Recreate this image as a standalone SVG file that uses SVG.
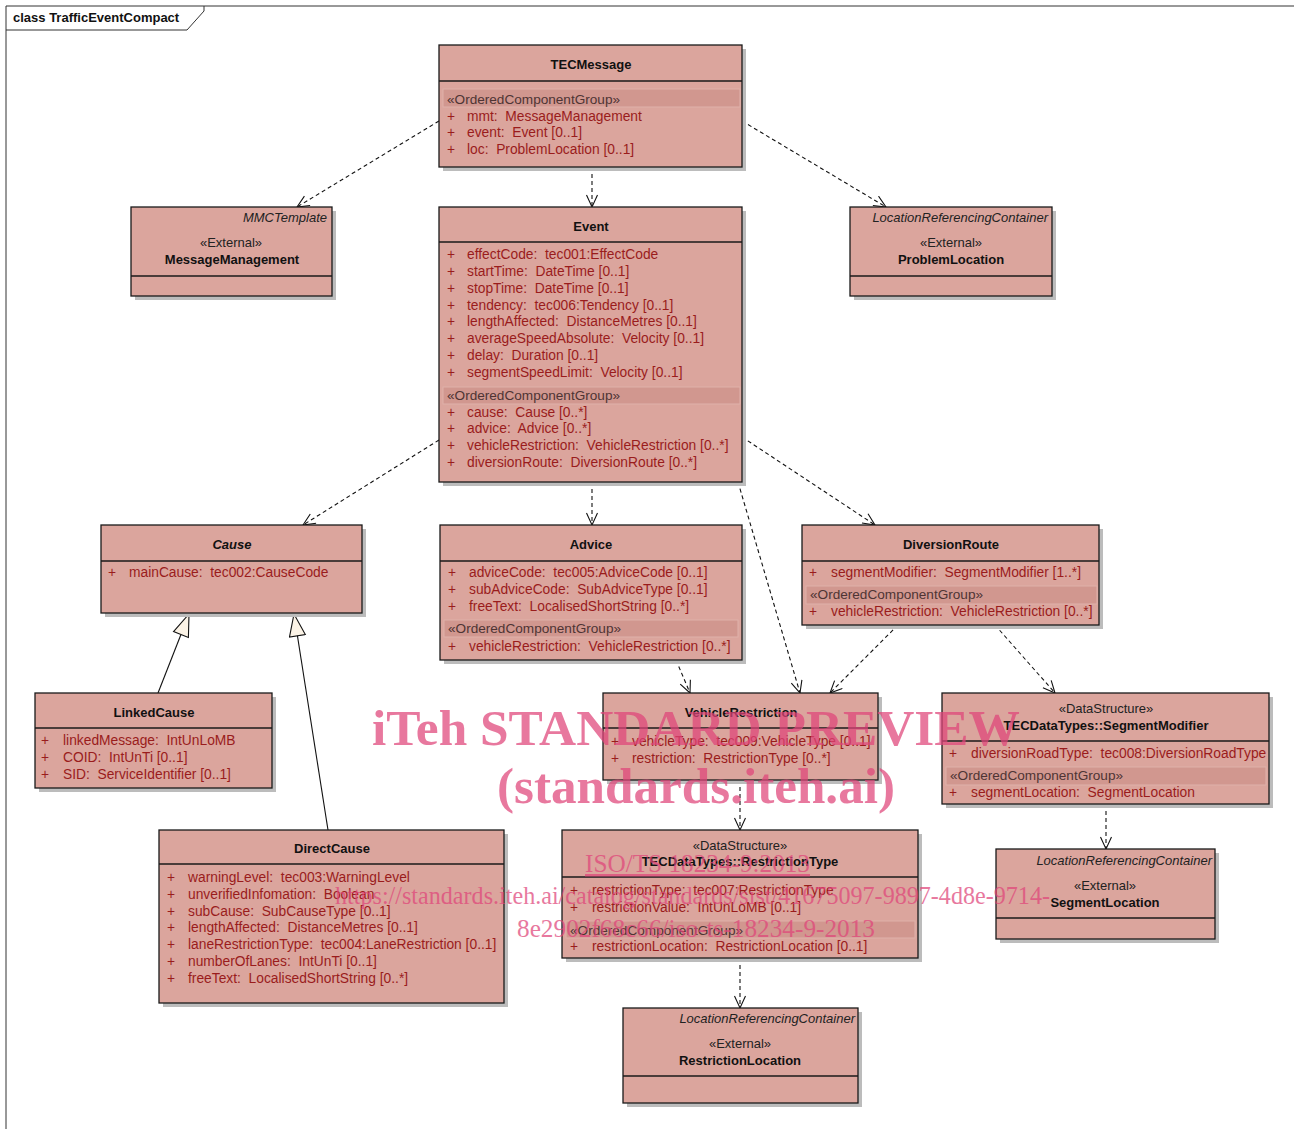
<svg xmlns="http://www.w3.org/2000/svg" width="1294" height="1129" viewBox="0 0 1294 1129">
<style>
text { font-family: "Liberation Sans", Arial, sans-serif; white-space: pre; }
.box { fill: #dba59d; stroke: #1a1a1a; stroke-width: 1.3; }
.sh { fill: #bcbcbc; }
.div { stroke: #1a1a1a; stroke-width: 1.3; }
.band { fill: #d1978f; stroke: #dfb1aa; stroke-width: 1; }
.t { font-size: 13px; font-weight: bold; fill: #111; text-anchor: middle; }
.ti { font-size: 13px; font-weight: bold; font-style: italic; fill: #111; text-anchor: middle; }
.st { font-size: 13px; fill: #222; text-anchor: middle; }
.it { font-size: 13px; font-style: italic; fill: #222; text-anchor: end; }
.a { font-size: 13.8px; fill: #9a1c1c; }
.g { font-size: 13.6px; fill: #4e3434; }
.dep { fill: none; stroke: #111; stroke-width: 1.1; stroke-dasharray: 4 3; marker-end: url(#open); }
.gen { fill: none; stroke: #111; stroke-width: 1.1; marker-end: url(#tri); }
.wm { font-family: "Liberation Serif", "Times New Roman", serif; fill: #e0457a; opacity: 0.72; }
</style>
<defs>
<marker id="open" markerUnits="userSpaceOnUse" markerWidth="16" markerHeight="14" refX="13" refY="6" orient="auto">
<path d="M1,0.5 L13,6 L1,11.5" fill="none" stroke="#111" stroke-width="1.1"/>
</marker>
<marker id="tri" markerUnits="userSpaceOnUse" markerWidth="26" markerHeight="20" refX="23" refY="9" orient="auto">
<path d="M1,1 L23,9 L1,17 Z" fill="#fbf3e6" stroke="#111" stroke-width="1.1"/>
</marker>
</defs>
<rect x="0" y="0" width="1294" height="1129" fill="#ffffff"/>
<g id="frame">
<path d="M6,1129 V6 H1294" fill="none" stroke="#333" stroke-width="1"/>
<path d="M6,30 H187 L204,11 V6" fill="none" stroke="#333" stroke-width="1"/>
<text x="13" y="22" style="font-size:13px;font-weight:bold;fill:#111">class TrafficEventCompact</text>
</g>

<g id="connectors">
<path class="dep" d="M439,121 L297,207"/>
<path class="dep" d="M592,167 L592,207"/>
<path class="dep" d="M742,121 L886,207"/>
<path class="dep" d="M439,440 L303,525"/>
<path class="dep" d="M592,482 L592,525"/>
<path class="dep" d="M742,437 L875,525"/>
<path class="dep" d="M738,482 L800,693"/>
<path class="dep" d="M676,660 L690,693"/>
<path class="dep" d="M898,625 L830,693"/>
<path class="dep" d="M995,625 L1055,693"/>
<path class="dep" d="M740,780 L740,830"/>
<path class="dep" d="M1106,804 L1106,849"/>
<path class="dep" d="M740,958 L740,1008"/>
<path class="gen" d="M158,693 L189,614"/>
<path class="gen" d="M328,830 L294,614"/>
</g>

<g id="TECMessage">
<rect class="sh" x="443" y="49" width="303" height="122"/>
<rect class="box" x="439" y="45" width="303" height="122"/>
<line class="div" x1="439" y1="81" x2="742" y2="81"/>
<text class="t" x="591" y="69">TECMessage</text>
<rect class="band" x="443" y="89" width="297" height="18"/>
<text class="g" x="447" y="104">«OrderedComponentGroup»</text>
<text class="a" x="447" y="121">+</text><text class="a" x="467" y="121">mmt:  MessageManagement</text>
<text class="a" x="447" y="137">+</text><text class="a" x="467" y="137">event:  Event [0..1]</text>
<text class="a" x="447" y="154">+</text><text class="a" x="467" y="154">loc:  ProblemLocation [0..1]</text>
</g>

<g id="MessageManagement">
<rect class="sh" x="135" y="211" width="201" height="89"/>
<rect class="box" x="131" y="207" width="201" height="89"/>
<line class="div" x1="131" y1="276" x2="332" y2="276"/>
<text class="it" x="327" y="222">MMCTemplate</text>
<text class="st" x="231" y="247">«External»</text>
<text class="t" x="232" y="264">MessageManagement</text>
</g>

<g id="ProblemLocation">
<rect class="sh" x="854" y="211" width="202" height="89"/>
<rect class="box" x="850" y="207" width="202" height="89"/>
<line class="div" x1="850" y1="276" x2="1052" y2="276"/>
<text class="it" x="1048" y="222">LocationReferencingContainer</text>
<text class="st" x="951" y="247">«External»</text>
<text class="t" x="951" y="264">ProblemLocation</text>
</g>

<g id="Event">
<rect class="sh" x="443" y="211" width="303" height="275"/>
<rect class="box" x="439" y="207" width="303" height="275"/>
<line class="div" x1="439" y1="242" x2="742" y2="242"/>
<text class="t" x="591" y="231">Event</text>
<text class="a" x="447" y="259">+</text><text class="a" x="467" y="259">effectCode:  tec001:EffectCode</text>
<text class="a" x="447" y="276">+</text><text class="a" x="467" y="276">startTime:  DateTime [0..1]</text>
<text class="a" x="447" y="293">+</text><text class="a" x="467" y="293">stopTime:  DateTime [0..1]</text>
<text class="a" x="447" y="310">+</text><text class="a" x="467" y="310">tendency:  tec006:Tendency [0..1]</text>
<text class="a" x="447" y="326">+</text><text class="a" x="467" y="326">lengthAffected:  DistanceMetres [0..1]</text>
<text class="a" x="447" y="343">+</text><text class="a" x="467" y="343">averageSpeedAbsolute:  Velocity [0..1]</text>
<text class="a" x="447" y="360">+</text><text class="a" x="467" y="360">delay:  Duration [0..1]</text>
<text class="a" x="447" y="377">+</text><text class="a" x="467" y="377">segmentSpeedLimit:  Velocity [0..1]</text>
<rect class="band" x="443" y="387" width="297" height="17"/>
<text class="g" x="447" y="400">«OrderedComponentGroup»</text>
<text class="a" x="447" y="417">+</text><text class="a" x="467" y="417">cause:  Cause [0..*]</text>
<text class="a" x="447" y="433">+</text><text class="a" x="467" y="433">advice:  Advice [0..*]</text>
<text class="a" x="447" y="450">+</text><text class="a" x="467" y="450">vehicleRestriction:  VehicleRestriction [0..*]</text>
<text class="a" x="447" y="467">+</text><text class="a" x="467" y="467">diversionRoute:  DiversionRoute [0..*]</text>
</g>

<g id="Cause">
<rect class="sh" x="105" y="529" width="261" height="88"/>
<rect class="box" x="101" y="525" width="261" height="88"/>
<line class="div" x1="101" y1="561" x2="362" y2="561"/>
<text class="ti" x="232" y="549">Cause</text>
<text class="a" x="108" y="577">+</text><text class="a" x="129" y="577">mainCause:  tec002:CauseCode</text>
</g>

<g id="Advice">
<rect class="sh" x="444" y="529" width="302" height="135"/>
<rect class="box" x="440" y="525" width="302" height="135"/>
<line class="div" x1="440" y1="561" x2="742" y2="561"/>
<text class="t" x="591" y="549">Advice</text>
<text class="a" x="448" y="577">+</text><text class="a" x="469" y="577">adviceCode:  tec005:AdviceCode [0..1]</text>
<text class="a" x="448" y="594">+</text><text class="a" x="469" y="594">subAdviceCode:  SubAdviceType [0..1]</text>
<text class="a" x="448" y="611">+</text><text class="a" x="469" y="611">freeText:  LocalisedShortString [0..*]</text>
<rect class="band" x="444" y="620" width="294" height="17"/>
<text class="g" x="448" y="633">«OrderedComponentGroup»</text>
<text class="a" x="448" y="651">+</text><text class="a" x="469" y="651">vehicleRestriction:  VehicleRestriction [0..*]</text>
</g>

<g id="DiversionRoute">
<rect class="sh" x="806" y="529" width="297" height="100"/>
<rect class="box" x="802" y="525" width="297" height="100"/>
<line class="div" x1="802" y1="561" x2="1099" y2="561"/>
<text class="t" x="951" y="549">DiversionRoute</text>
<text class="a" x="809" y="577">+</text><text class="a" x="831" y="577">segmentModifier:  SegmentModifier [1..*]</text>
<rect class="band" x="806" y="586" width="291" height="18"/>
<text class="g" x="810" y="599">«OrderedComponentGroup»</text>
<text class="a" x="809" y="616">+</text><text class="a" x="831" y="616">vehicleRestriction:  VehicleRestriction [0..*]</text>
</g>

<g id="LinkedCause">
<rect class="sh" x="39" y="697" width="237" height="95"/>
<rect class="box" x="35" y="693" width="237" height="95"/>
<line class="div" x1="35" y1="728" x2="272" y2="728"/>
<text class="t" x="154" y="717">LinkedCause</text>
<text class="a" x="41" y="745">+</text><text class="a" x="63" y="745">linkedMessage:  IntUnLoMB</text>
<text class="a" x="41" y="762">+</text><text class="a" x="63" y="762">COID:  IntUnTi [0..1]</text>
<text class="a" x="41" y="779">+</text><text class="a" x="63" y="779">SID:  ServiceIdentifier [0..1]</text>
</g>

<g id="VehicleRestriction">
<rect class="sh" x="607" y="697" width="275" height="87"/>
<rect class="box" x="603" y="693" width="275" height="87"/>
<line class="div" x1="603" y1="728" x2="878" y2="728"/>
<text class="t" x="741" y="717">VehicleRestriction</text>
<text class="a" x="611" y="746">+</text><text class="a" x="632" y="746">vehicleType:  tec009:VehicleType [0..1]</text>
<text class="a" x="611" y="763">+</text><text class="a" x="632" y="763">restriction:  RestrictionType [0..*]</text>
</g>

<g id="SegmentModifier">
<rect class="sh" x="946" y="697" width="327" height="111"/>
<rect class="box" x="942" y="693" width="327" height="111"/>
<line class="div" x1="942" y1="741" x2="1269" y2="741"/>
<text class="st" x="1106" y="713">«DataStructure»</text>
<text class="t" x="1106" y="730">TECDataTypes::SegmentModifier</text>
<text class="a" x="949" y="758">+</text><text class="a" x="971" y="758">diversionRoadType:  tec008:DiversionRoadType</text>
<rect class="band" x="946" y="767" width="320" height="18"/>
<text class="g" x="950" y="780">«OrderedComponentGroup»</text>
<text class="a" x="949" y="797">+</text><text class="a" x="971" y="797">segmentLocation:  SegmentLocation</text>
</g>

<g id="DirectCause">
<rect class="sh" x="163" y="834" width="345" height="173"/>
<rect class="box" x="159" y="830" width="345" height="173"/>
<line class="div" x1="159" y1="864" x2="504" y2="864"/>
<text class="t" x="332" y="853">DirectCause</text>
<text class="a" x="167" y="882">+</text><text class="a" x="188" y="882">warningLevel:  tec003:WarningLevel</text>
<text class="a" x="167" y="899">+</text><text class="a" x="188" y="899">unverifiedInfomation:  Boolean</text>
<text class="a" x="167" y="916">+</text><text class="a" x="188" y="916">subCause:  SubCauseType [0..1]</text>
<text class="a" x="167" y="932">+</text><text class="a" x="188" y="932">lengthAffected:  DistanceMetres [0..1]</text>
<text class="a" x="167" y="949">+</text><text class="a" x="188" y="949">laneRestrictionType:  tec004:LaneRestriction [0..1]</text>
<text class="a" x="167" y="966">+</text><text class="a" x="188" y="966">numberOfLanes:  IntUnTi [0..1]</text>
<text class="a" x="167" y="983">+</text><text class="a" x="188" y="983">freeText:  LocalisedShortString [0..*]</text>
</g>

<g id="RestrictionType">
<rect class="sh" x="566" y="834" width="356" height="128"/>
<rect class="box" x="562" y="830" width="356" height="128"/>
<line class="div" x1="562" y1="877" x2="918" y2="877"/>
<text class="st" x="740" y="850">«DataStructure»</text>
<text class="t" x="740" y="866">TECDataTypes::RestrictionType</text>
<text class="a" x="570" y="895">+</text><text class="a" x="592" y="895">restrictionType:  tec007:RestrictionType</text>
<text class="a" x="570" y="912">+</text><text class="a" x="592" y="912">restrictionValue:  IntUnLoMB [0..1]</text>
<rect class="band" x="566" y="921" width="349" height="17"/>
<text class="g" x="570" y="935">«OrderedComponentGroup»</text>
<text class="a" x="570" y="951">+</text><text class="a" x="592" y="951">restrictionLocation:  RestrictionLocation [0..1]</text>
</g>

<g id="SegmentLocation">
<rect class="sh" x="1000" y="853" width="219" height="90"/>
<rect class="box" x="996" y="849" width="219" height="90"/>
<line class="div" x1="996" y1="918" x2="1215" y2="918"/>
<text class="it" x="1212" y="865">LocationReferencingContainer</text>
<text class="st" x="1105" y="890">«External»</text>
<text class="t" x="1105" y="907">SegmentLocation</text>
</g>

<g id="RestrictionLocation">
<rect class="sh" x="627" y="1012" width="235" height="95"/>
<rect class="box" x="623" y="1008" width="235" height="95"/>
<line class="div" x1="623" y1="1076" x2="858" y2="1076"/>
<text class="it" x="855" y="1023">LocationReferencingContainer</text>
<text class="st" x="740" y="1048">«External»</text>
<text class="t" x="740" y="1065">RestrictionLocation</text>
</g>

<g id="watermark">
<text class="wm" x="372" y="745" textLength="648" lengthAdjust="spacingAndGlyphs" style="font-size:50px;font-weight:bold">iTeh STANDARD PREVIEW</text>
<text class="wm" x="497" y="803" textLength="398" lengthAdjust="spacingAndGlyphs" style="font-size:50px;font-weight:bold">(standards.iteh.ai)</text>
<text class="wm" x="585" y="872" textLength="225" lengthAdjust="spacingAndGlyphs" style="font-size:25px;text-decoration:underline">ISO/TS 18234-9:2013</text>
<text class="wm" x="335" y="904" textLength="715" lengthAdjust="spacingAndGlyphs" style="font-size:25px">https://standards.iteh.ai/catalog/standards/sist/41675097-9897-4d8e-9714-</text>
<text class="wm" x="517" y="937" textLength="358" lengthAdjust="spacingAndGlyphs" style="font-size:25px">8e2902f68c66/iso-ts-18234-9-2013</text>
</g>
</svg>
